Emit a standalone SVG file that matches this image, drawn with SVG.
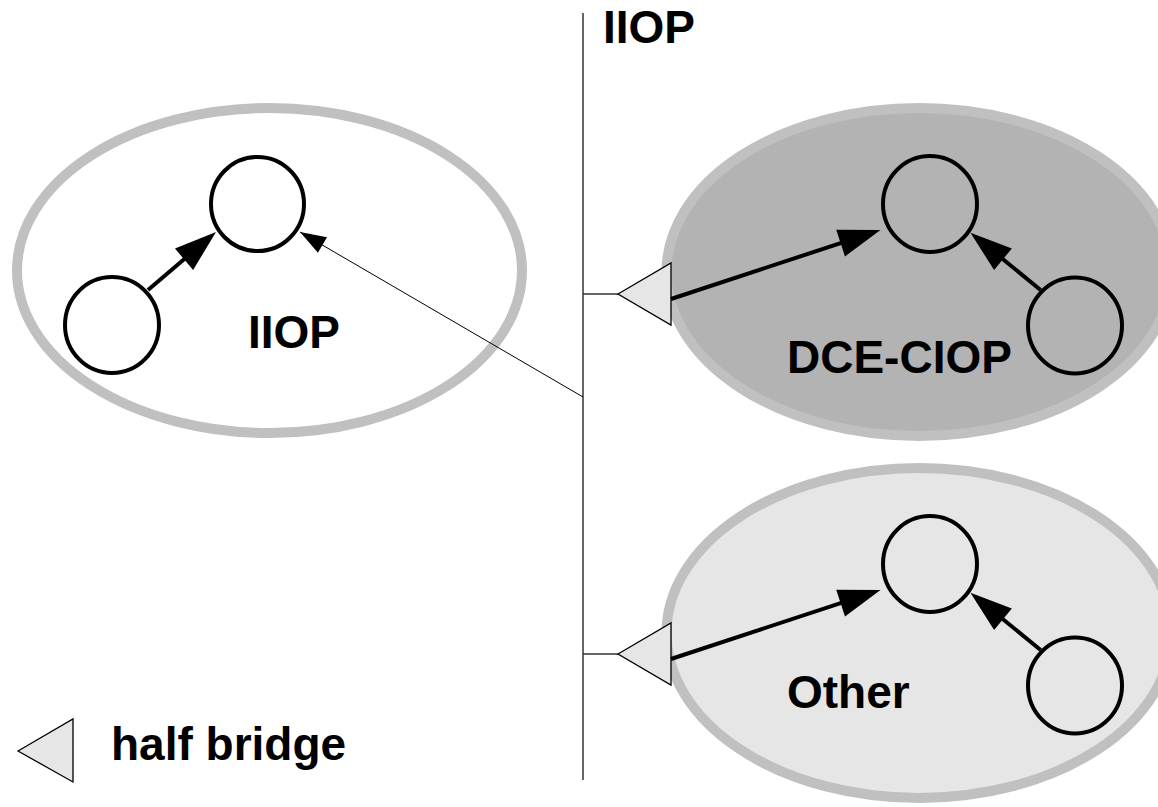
<svg xmlns="http://www.w3.org/2000/svg" width="1158" height="807" viewBox="0 0 1158 807">
<style>
.domain{stroke:#c0c0c0;stroke-width:10}
.obj{fill:none;stroke:#000;stroke-width:4}
.lbl{font-family:"Liberation Sans",Arial,sans-serif;font-weight:bold;font-size:46px;fill:#000}
.bridge{fill:#e6e6e6;stroke:#000;stroke-width:1.3}
.thick{stroke:#000;stroke-width:4;fill:none}
.thin{stroke:#000;stroke-width:1;fill:none}
</style>
<defs>
<marker id="ah" markerUnits="userSpaceOnUse" markerWidth="44" markerHeight="30" refX="32" refY="14" orient="auto" overflow="visible">
<path d="M0,0 L42,14 L0,28 z" fill="#000"/>
</marker>
<marker id="ahs" markerUnits="userSpaceOnUse" markerWidth="27" markerHeight="19" refX="26" refY="9" orient="auto" overflow="visible">
<path d="M0,0 L26,9 L0,18 z" fill="#000"/>
</marker>
</defs>
<rect width="1158" height="807" fill="#fff"/>
<g id="iiop-domain">
<ellipse class="domain" cx="269.5" cy="270.5" rx="252.5" ry="162.5" fill="#fff"/>
<text class="lbl" x="248" y="348">IIOP</text>
</g>
<g id="dce-domain">
<ellipse class="domain" cx="919" cy="272" rx="252.5" ry="164" fill="#b3b3b3"/>
<text class="lbl" x="787" y="373">DCE-CIOP</text>
</g>
<g id="other-domain">
<ellipse class="domain" cx="919" cy="633" rx="252.5" ry="165" fill="#e6e6e6"/>
<text class="lbl" x="787" y="708">Other</text>
</g>
<g id="backbone">
<line x1="583" y1="13" x2="583" y2="780" stroke="#333" stroke-width="1.5"/>
<text class="lbl" x="603" y="43">IIOP</text>
</g>
<g id="iiop-obj1"><ellipse class="obj" cx="257.5" cy="204" rx="46.5" ry="47"/></g>
<g id="iiop-obj2"><ellipse class="obj" cx="112" cy="325" rx="47" ry="48"/></g>
<g id="dce-obj1"><ellipse class="obj" cx="930" cy="204" rx="47" ry="48"/></g>
<g id="dce-obj2"><ellipse class="obj" cx="1075" cy="325.5" rx="47" ry="48"/></g>
<g id="other-obj1"><ellipse class="obj" cx="930" cy="564" rx="47" ry="48"/></g>
<g id="other-obj2"><ellipse class="obj" cx="1075" cy="685.5" rx="47" ry="48"/></g>
<g id="dce-bridge">
<line x1="583" y1="294" x2="618" y2="294" stroke="#333" stroke-width="1.3"/>
<polygon class="bridge" points="618,294 671,263 671,325"/>
</g>
<g id="other-bridge">
<line x1="583" y1="654" x2="618" y2="654" stroke="#333" stroke-width="1.3"/>
<polygon class="bridge" points="618,654 671,623 671,685"/>
</g>
<g id="connectors">
<line class="thick" x1="148" y1="290" x2="208.4" y2="238.5" marker-end="url(#ah)"/>
<line class="thin" x1="583" y1="397" x2="300" y2="232" marker-end="url(#ahs)"/>
<line class="thick" x1="671" y1="299" x2="871" y2="233.1" marker-end="url(#ah)"/>
<line class="thick" x1="1040.6" y1="290" x2="978.2" y2="239" marker-end="url(#ah)"/>
<line class="thick" x1="671" y1="659" x2="871" y2="593.1" marker-end="url(#ah)"/>
<line class="thick" x1="1040.6" y1="650" x2="978.2" y2="599" marker-end="url(#ah)"/>
</g>
<g id="legend">
<polygon class="bridge" points="18,751 73,719 73,782"/>
<text class="lbl" x="111" y="760">half bridge</text>
</g>
</svg>
